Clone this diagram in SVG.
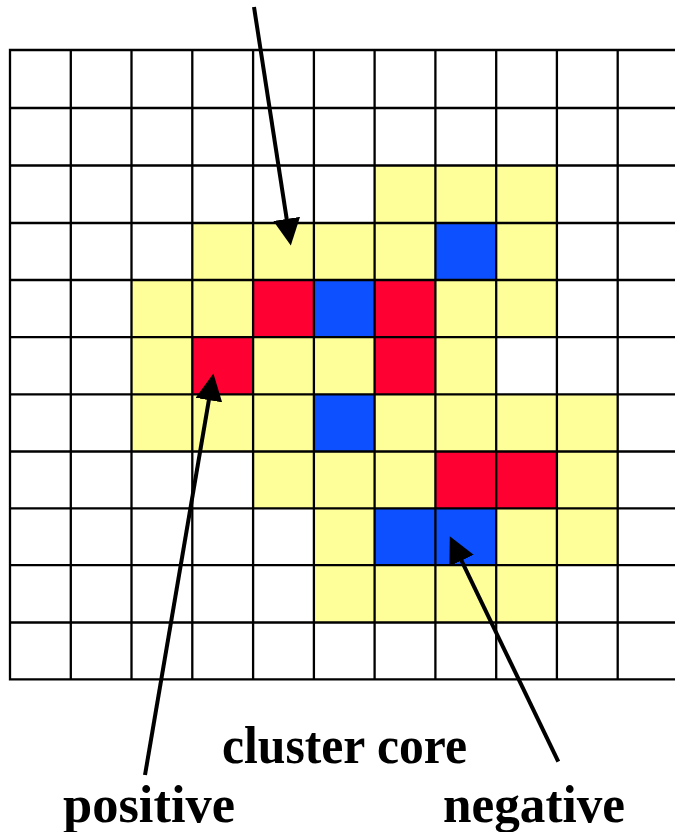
<svg xmlns="http://www.w3.org/2000/svg" width="675" height="832" viewBox="0 0 675 832">
<style>
.y{fill:#FFFF99}
.r{fill:#FF0033}
.b{fill:#0D50FF}
.grid{fill:none;stroke:#000;stroke-width:2.3;stroke-linecap:square}
.arrow{fill:none;stroke:#000;stroke-width:4}
.lbl{font-family:"Liberation Serif","Times New Roman",serif;font-weight:bold;font-size:52px;fill:#000}
</style>
<defs>
<marker id="head" markerUnits="userSpaceOnUse" markerWidth="27" markerHeight="27" viewBox="0 0 26 26" refX="12" refY="13" orient="auto">
<path d="M0,0 L26,13 L0,26 Z" fill="#000"/>
</marker>
</defs>
<rect width="675" height="832" fill="#fff"/>
<g id="cells">
<rect class="y" x="374.6" y="165.5" width="182.3" height="57.5"/>
<rect class="y" x="192.3" y="223" width="243.1" height="57"/>
<rect class="b" x="435.4" y="223" width="60.8" height="57"/>
<rect class="y" x="496.2" y="223" width="60.7" height="57"/>
<rect class="y" x="131.5" y="280" width="121.6" height="57.2"/>
<rect class="r" x="253.1" y="280" width="60.8" height="57.2"/>
<rect class="b" x="313.9" y="280" width="60.7" height="57.2"/>
<rect class="r" x="374.6" y="280" width="60.8" height="57.2"/>
<rect class="y" x="435.4" y="280" width="121.5" height="57.2"/>
<rect class="y" x="131.5" y="337.2" width="60.8" height="57.1"/>
<rect class="r" x="192.3" y="337.2" width="60.8" height="57.1"/>
<rect class="y" x="253.1" y="337.2" width="121.5" height="57.1"/>
<rect class="r" x="374.6" y="337.2" width="60.8" height="57.1"/>
<rect class="y" x="435.4" y="337.2" width="60.8" height="57.1"/>
<rect class="y" x="131.5" y="394.3" width="182.4" height="57.2"/>
<rect class="b" x="313.9" y="394.3" width="60.7" height="57.2"/>
<rect class="y" x="374.6" y="394.3" width="243.1" height="57.2"/>
<rect class="y" x="253.1" y="451.5" width="182.3" height="56.8"/>
<rect class="r" x="435.4" y="451.5" width="121.5" height="56.8"/>
<rect class="y" x="556.9" y="451.5" width="60.8" height="56.8"/>
<rect class="y" x="313.9" y="508.3" width="60.7" height="56.9"/>
<rect class="b" x="374.6" y="508.3" width="121.6" height="56.9"/>
<rect class="y" x="496.2" y="508.3" width="121.5" height="56.9"/>
<rect class="y" x="313.9" y="565.2" width="243" height="57.3"/>
</g>
<g id="grid">
<path class="grid" d="M10,50V679.3 M70.8,50V679.3 M131.5,50V679.3 M192.3,50V679.3 M253.1,50V679.3 M313.9,50V679.3 M374.6,50V679.3 M435.4,50V679.3 M496.2,50V679.3 M556.9,50V679.3 M617.7,50V679.3
M10,50H676 M10,108H676 M10,165.5H676 M10,223H676 M10,280H676 M10,337.2H676 M10,394.3H676 M10,451.5H676 M10,508.3H676 M10,565.2H676 M10,622.5H676 M10,679.3H676"/>
</g>
<g id="connectors">
<line class="arrow" x1="254" y1="7" x2="288.6" y2="231.2" marker-end="url(#head)"/>
<line class="arrow" x1="145" y1="775" x2="210.95" y2="387.8" marker-end="url(#head)"/>
<line class="arrow" x1="558.3" y1="761.7" x2="456.1" y2="549.3" marker-end="url(#head)"/>
</g>
<g id="label-cluster-core"><text class="lbl" x="222" y="763" textLength="245" lengthAdjust="spacingAndGlyphs">cluster core</text></g>
<g id="label-positive"><text class="lbl" x="63" y="822" textLength="172" lengthAdjust="spacingAndGlyphs">positive</text></g>
<g id="label-negative"><text class="lbl" x="443" y="822" textLength="182" lengthAdjust="spacingAndGlyphs">negative</text></g>
</svg>
